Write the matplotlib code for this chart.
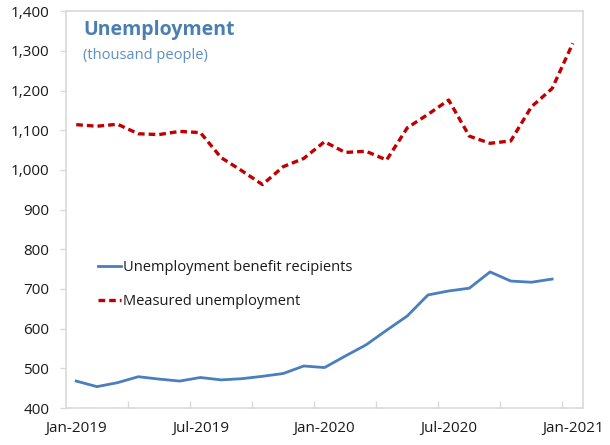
import matplotlib
matplotlib.use("Agg")
import matplotlib.pyplot as plt
from matplotlib.ticker import FuncFormatter, FixedLocator

plt.rcParams['font.family'] = ['Open Sans', 'DejaVu Sans']

# Monthly series, Jan-2019 .. Jan-2021 (thousand people)
months = ["Jan-2019", "Feb-2019", "Mar-2019", "Apr-2019", "May-2019", "Jun-2019",
          "Jul-2019", "Aug-2019", "Sep-2019", "Oct-2019", "Nov-2019", "Dec-2019",
          "Jan-2020", "Feb-2020", "Mar-2020", "Apr-2020", "May-2020", "Jun-2020",
          "Jul-2020", "Aug-2020", "Sep-2020", "Oct-2020", "Nov-2020", "Dec-2020",
          "Jan-2021"]

benefit_recipients = [468, 454, 464, 479, 473, 468, 477, 471, 474, 480, 487, 506,
                      502, 531, 559, 596, 632, 685, 695, 702, 743, 720, 717, 725]

measured_unemployment = [1114, 1110, 1115, 1091, 1089, 1097, 1094, 1031, 998, 963,
                         1008, 1029, 1071, 1044, 1047, 1025, 1106, 1140, 1176, 1085,
                         1067, 1073, 1159, 1205, 1319]

tick_labels = ["Jan-2019", "Jul-2019", "Jan-2020", "Jul-2020", "Jan-2021"]

blue = "#4a7ebf"
red = "#c00000"
grey = "#d9d9d9"
text_col = "#1a1a1a"

fig = plt.figure(figsize=(6.10, 4.45), dpi=100)
ax = fig.add_axes([0.108, 0.083, 0.848, 0.892])

x_blue = list(range(len(benefit_recipients)))
x_red = list(range(len(measured_unemployment)))

ax.plot(x_blue, benefit_recipients, color=blue, lw=2.0,
        label="Unemployment benefit recipients")
ax.plot(x_red, measured_unemployment, color=red, lw=2.4, linestyle=(0, (2.0, 1.2)),
        label="Measured unemployment")

ax.set_xlim(-0.5, len(months) - 0.5)
ax.set_ylim(400, 1400)

# y axis
ax.set_yticks(range(400, 1401, 100))
ax.yaxis.set_major_formatter(FuncFormatter(lambda v, p: f"{int(v):,}"))
ax.tick_params(axis="y", direction="out", length=4, width=1, color=grey,
               labelsize=11, labelcolor=text_col, pad=8)

# x axis: labels on every sixth month, tick marks between quarters
label_pos = [months.index(m) for m in tick_labels]
ax.set_xticks(label_pos)
ax.set_xticklabels(tick_labels)
ax.tick_params(axis="x", which="major", length=0, labelsize=11,
               labelcolor=text_col, pad=9)
ax.xaxis.set_minor_locator(FixedLocator([i + 2.5 for i in range(0, 24, 3)]))
ax.tick_params(axis="x", which="minor", direction="in", length=5, width=1, color=grey)

for s in ax.spines.values():
    s.set_color(grey)
    s.set_linewidth(1.2)

ax.text(0.033, 0.952, "Unemployment", transform=ax.transAxes, fontsize=14,
        fontweight="bold", color="#4a7fb0", va="center", ha="left")
ax.text(0.033, 0.888, "(thousand people)", transform=ax.transAxes, fontsize=10.5,
        color="#5b8fc7", va="center", ha="left")

leg = ax.legend(loc="upper left", bbox_to_anchor=(0.062, 0.372), frameon=False,
                fontsize=10.5, handlelength=1.55, handletextpad=0.2,
                labelspacing=1.3, borderpad=0, borderaxespad=0)
for t in leg.get_texts():
    t.set_color(text_col)

fig.savefig("out.png", dpi=100, facecolor="white")
